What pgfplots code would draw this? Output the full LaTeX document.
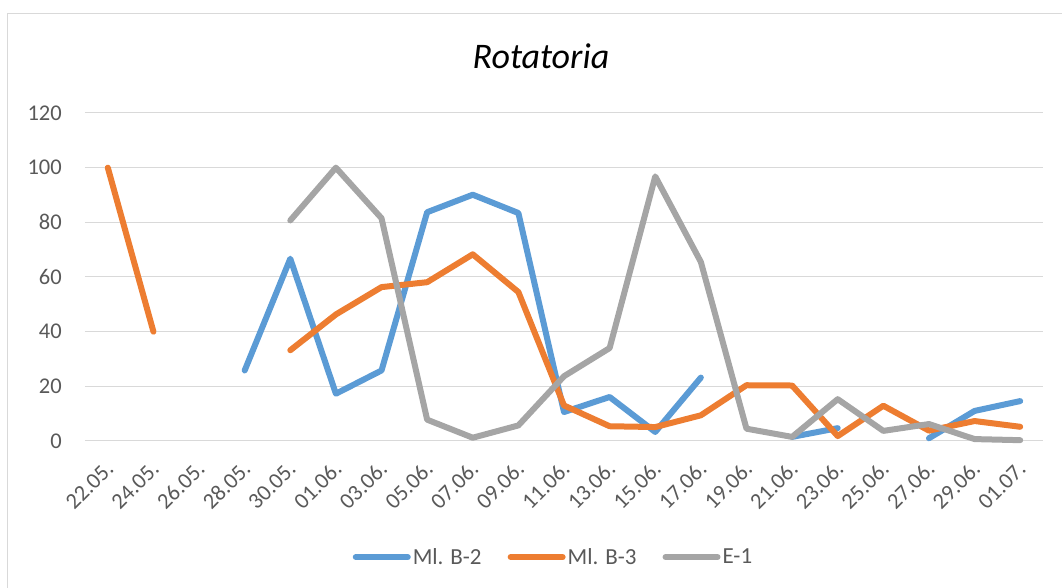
\documentclass[border=0pt]{standalone}
\usepackage{fontspec}
\setmainfont{Carlito}
\usepackage{pgfplots}
\usepackage{pgfplotstable}
\pgfplotsset{compat=1.18}
\definecolor{cblue}{HTML}{5B9BD5}
\definecolor{corange}{HTML}{ED7D31}
\definecolor{cgray}{HTML}{A5A5A5}
\definecolor{tickgray}{HTML}{595959}
\definecolor{gridgray}{HTML}{D9D9D9}
\pgfplotstableread{
x b2 b3 e1
0 nan 100 nan
1 nan 40 nan
2 nan nan nan
3 25.8 nan nan
4 66.7 33.2 80.7
5 17.3 46.3 100
6 25.8 56.3 81.5
7 83.7 58.1 7.8
8 90.1 68.3 1.2
9 83.4 54.5 5.7
10 10.6 13 23.7
11 16.1 5.4 34
12 3.3 5.1 96.8
13 23.2 9.4 65.5
14 nan 20.4 4.5
15 1.5 20.3 1.5
16 4.7 1.8 15.3
17 nan 12.9 3.7
18 1 3.8 6.2
19 11 7.3 0.7
20 14.6 5.2 0.3
}\data
\begin{document}
\begin{tikzpicture}
\useasboundingbox (-85pt,-147pt) rectangle (977pt,441pt);
\draw[gridgray, line width=1pt] (-77pt,-160pt) rectangle (990pt,427pt);
\node[anchor=base, font=\fontsize{36}{40}\selectfont\itshape] at (456pt,372pt) {Rotatoria};
\begin{axis}[
  at={(0pt,0pt)}, anchor=south west,
  scale only axis, width=958pt, height=328pt,
  xmin=-0.5, xmax=20.5, ymin=0, ymax=120,
  ytick={0,20,...,120},
  xtick={0,...,20},
  xticklabels={22.05.,24.05.,26.05.,28.05.,30.05.,01.06.,03.06.,05.06.,07.06.,09.06.,11.06.,13.06.,15.06.,17.06.,19.06.,21.06.,23.06.,25.06.,27.06.,29.06.,01.07.},
  /pgf/number format/assume math mode=true,
  axis line style={draw=none},
  major tick style={draw=none},
  ymajorgrids, grid style={gridgray, line width=1pt},
  yticklabel style={font=\fontsize{22.5}{26}\selectfont, text=tickgray, inner sep=0pt, anchor=east, xshift=-23pt},
  xticklabel style={font=\fontsize{22.5}{26}\selectfont, text=tickgray, inner sep=0pt, xshift=2pt, yshift=-24pt, rotate=45, anchor=east},
  unbounded coords=jump,
  clip=false,
  legend columns=3,
  legend style={at={(rel axis cs:0.489,-0.354)}, anchor=center, draw=none, fill=none,
    font=\fontsize{23}{26}\selectfont, text=tickgray,
    /tikz/every even column/.append style={column sep=24pt}},
  legend image code/.code={\draw[#1] (0pt,0pt) -- (52pt,0pt);},
  every axis plot/.append style={line width=6pt, line cap=round, line join=round, mark=none},
]
\addplot[cblue] table[x=x,y=b2] {\data};
\addlegendentry{Ml. B-2}
\addplot[corange] table[x=x,y=b3] {\data};
\addlegendentry{Ml. B-3}
\addplot[cgray] table[x=x,y=e1] {\data};
\addlegendentry{E-1}
\end{axis}
\end{tikzpicture}
\end{document}
